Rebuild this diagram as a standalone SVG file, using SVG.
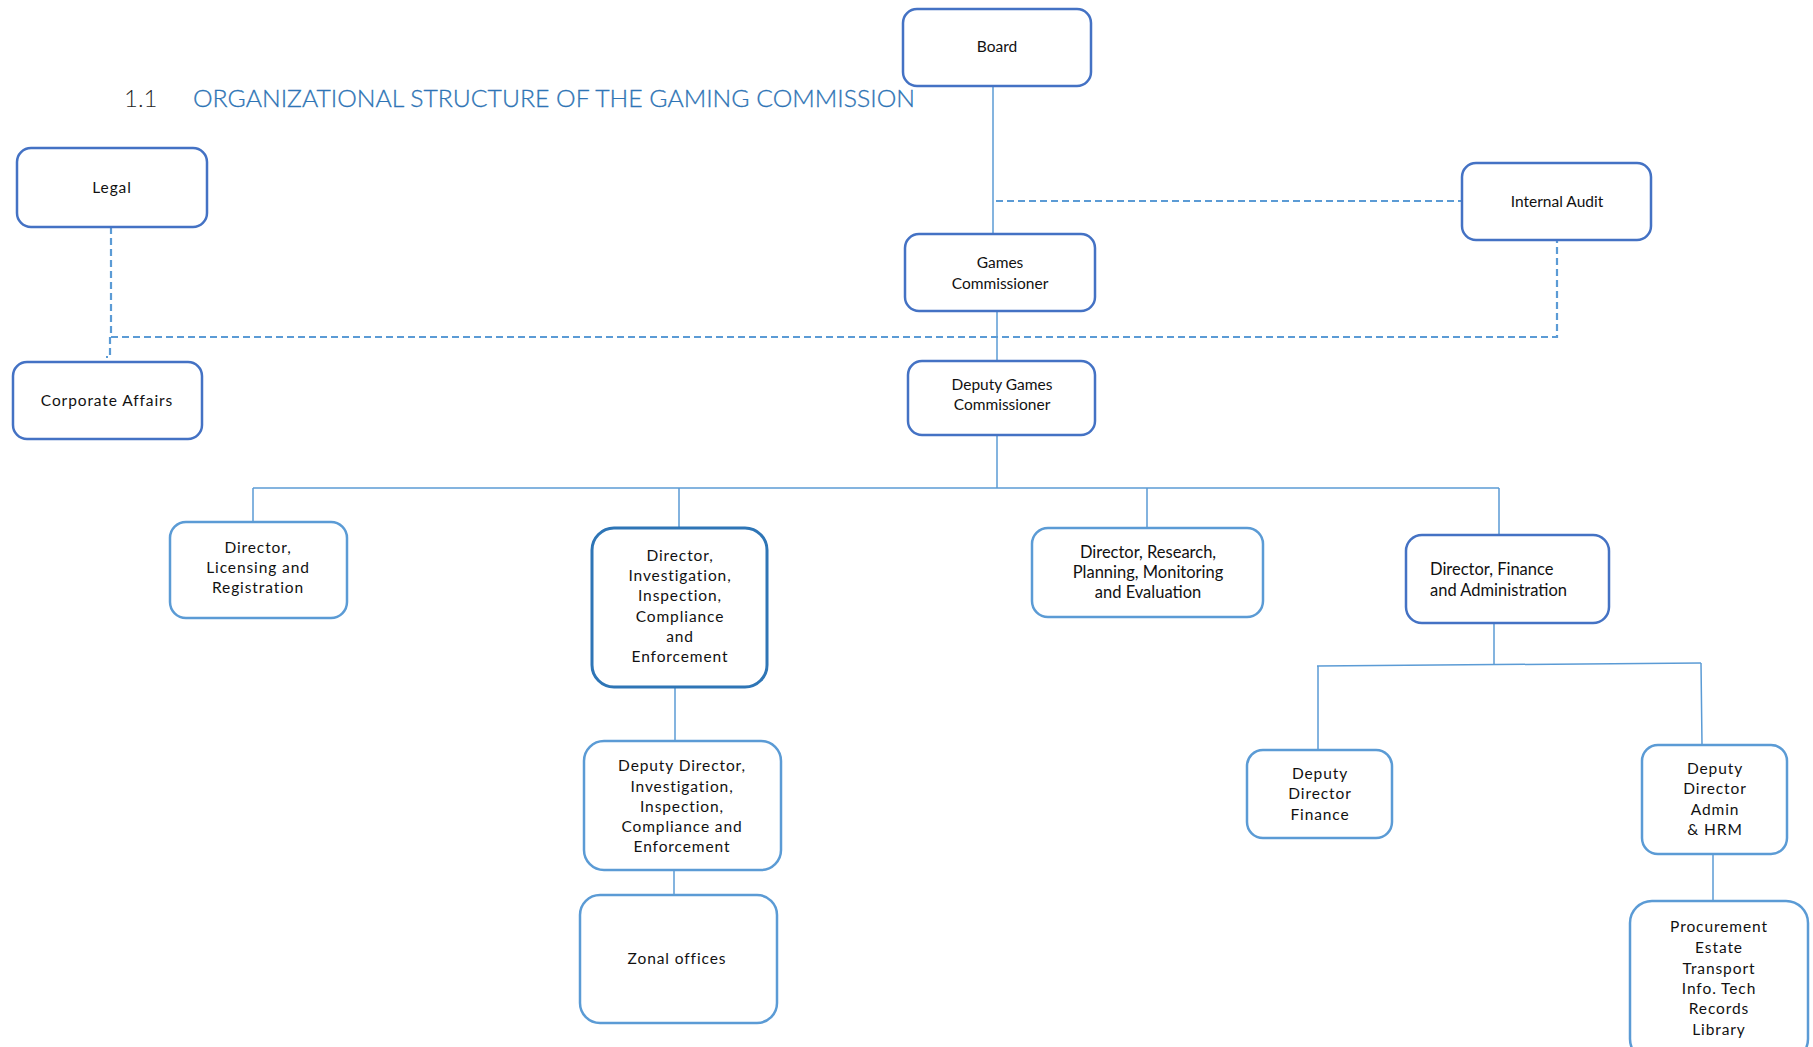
<svg xmlns="http://www.w3.org/2000/svg" width="1813" height="1047" viewBox="0 0 1813 1047">
<style>
.bx{fill:#fff;stroke:#5B9BD5;stroke-width:2.5}
.bd{stroke:#4472C4}
.bi{stroke:#2E75B6;stroke-width:3}
.t{font-family:Lato,"Open Sans","Liberation Sans",sans-serif;font-size:15.5px;fill:#111;text-anchor:middle}
.w{letter-spacing:0.9px}
.c{fill:none;stroke:#5B9BD5;stroke-width:1.5}
.d{fill:none;stroke:#5B9BD5;stroke-width:2.2;stroke-dasharray:7 4}
</style>
<rect width="1813" height="1047" fill="#fff"/>
<g id="title">
<text x="124" y="107" font-family="Lato,'Liberation Sans',sans-serif" font-size="24" font-weight="300" fill="#262626">1.1</text>
<text x="193" y="107" font-family="Lato,'Liberation Sans',sans-serif" font-size="24" font-weight="300" fill="#2E74B5" stroke="#2E74B5" stroke-width="0.3" textLength="722" lengthAdjust="spacingAndGlyphs">ORGANIZATIONAL STRUCTURE OF THE GAMING COMMISSION</text>
</g>
<g id="connectors">
<path class="c" d="M993,86 V234"/>
<path class="d" d="M996,201 H1462"/>
<path class="c" d="M997,311 V361"/>
<path class="d" d="M111,227 V337 H1557 V240"/>
<path class="d" d="M110,337 V357 H106"/>
<path class="c" d="M997,435 V488"/>
<path class="c" d="M253,488 H1499"/>
<path class="c" d="M253,488 V522 M679,488 V528 M1147,488 V528 M1499,488 V535"/>
<path class="c" d="M675,687 V741"/>
<path class="c" d="M674,870 V895"/>
<path class="c" d="M1494,623 V665"/>
<path class="c" d="M1317,666 L1701,663"/>
<path class="c" d="M1318,666 V750 M1701,663 L1702,745"/>
<path class="c" d="M1713,854 V901"/>
</g>
<g id="board"><rect class="bx bd" x="903" y="9" width="188" height="77" rx="14"/><text class="t" x="997" y="52">Board</text></g>
<g id="legal"><rect class="bx bd" x="17" y="148" width="190" height="79" rx="14"/><text class="t w" x="112" y="193">Legal</text></g>
<g id="internal-audit"><rect class="bx bd" x="1462" y="163" width="189" height="77" rx="14"/><text class="t" x="1557" y="207">Internal Audit</text></g>
<g id="games-commissioner"><rect class="bx bd" x="905" y="234" width="190" height="77" rx="14"/><text class="t" x="1000" y="268">Games</text><text class="t" x="1000" y="289">Commissioner</text></g>
<g id="corporate-affairs"><rect class="bx bd" x="13" y="362" width="189" height="77" rx="14"/><text class="t w" x="107" y="406">Corporate Affairs</text></g>
<g id="deputy-games-commissioner"><rect class="bx bd" x="908" y="361" width="187" height="74" rx="14"/><text class="t" x="1002" y="390">Deputy Games</text><text class="t" x="1002" y="410">Commissioner</text></g>
<g id="director-licensing"><rect class="bx" x="170" y="522" width="177" height="96" rx="16"/><text class="t w" x="258" y="553">Director,</text><text class="t w" x="258" y="573">Licensing and</text><text class="t w" x="258" y="593">Registration</text></g>
<g id="director-investigation"><rect class="bx bi" x="592" y="528" width="175" height="159" rx="22"/><text class="t w" x="680" y="561">Director,</text><text class="t w" x="680" y="581">Investigation,</text><text class="t w" x="680" y="601">Inspection,</text><text class="t w" x="680" y="622">Compliance</text><text class="t w" x="680" y="642">and</text><text class="t w" x="680" y="662">Enforcement</text></g>
<g id="director-research"><rect class="bx" x="1032" y="528" width="231" height="89" rx="16"/><text class="t" x="1148" y="558" style="font-size:16.5px">Director, Research,</text><text class="t" x="1148" y="578" style="font-size:16.5px">Planning, Monitoring</text><text class="t" x="1148" y="598" style="font-size:16.5px">and Evaluation</text></g>
<g id="director-finance"><rect class="bx bd" x="1406" y="535" width="203" height="88" rx="16"/><text class="t" x="1430" y="575" style="text-anchor:start;font-size:16.5px">Director, Finance</text><text class="t" x="1430" y="596" style="text-anchor:start;font-size:16.5px">and Administration</text></g>
<g id="deputy-director-investigation"><rect class="bx" x="584" y="741" width="197" height="129" rx="20"/><text class="t w" x="682" y="771">Deputy Director,</text><text class="t w" x="682" y="792">Investigation,</text><text class="t w" x="682" y="812">Inspection,</text><text class="t w" x="682" y="832">Compliance and</text><text class="t w" x="682" y="852">Enforcement</text></g>
<g id="zonal-offices"><rect class="bx" x="580" y="895" width="197" height="128" rx="20"/><text class="t w" x="677" y="964">Zonal offices</text></g>
<g id="deputy-director-finance"><rect class="bx" x="1247" y="750" width="145" height="88" rx="16"/><text class="t w" x="1320" y="779">Deputy</text><text class="t w" x="1320" y="799">Director</text><text class="t w" x="1320" y="820">Finance</text></g>
<g id="deputy-director-admin"><rect class="bx" x="1642" y="745" width="145" height="109" rx="16"/><text class="t w" x="1715" y="774">Deputy</text><text class="t w" x="1715" y="794">Director</text><text class="t w" x="1715" y="815">Admin</text><text class="t w" x="1715" y="835">&amp; HRM</text></g>
<g id="procurement"><rect class="bx" x="1630" y="901" width="178" height="160" rx="22"/><text class="t w" x="1719" y="932">Procurement</text><text class="t w" x="1719" y="953">Estate</text><text class="t w" x="1719" y="974">Transport</text><text class="t w" x="1719" y="994">Info. Tech</text><text class="t w" x="1719" y="1014">Records</text><text class="t w" x="1719" y="1035">Library</text></g>
</svg>
